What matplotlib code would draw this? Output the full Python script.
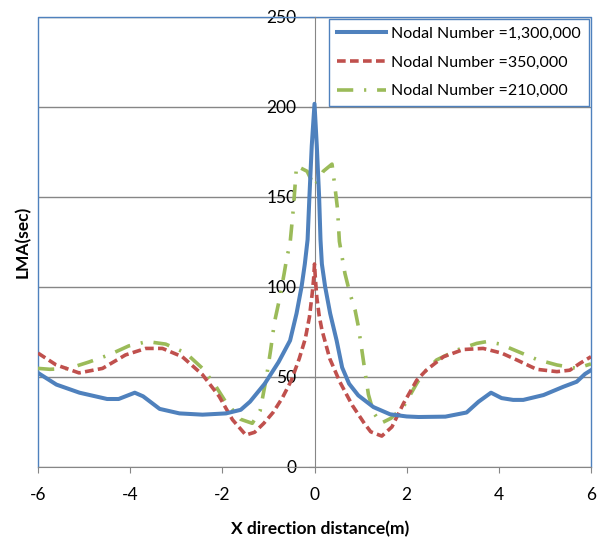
import matplotlib
matplotlib.use("Agg")
from matplotlib import pyplot as plt

plt.rcParams['font.family'] = ['Lato', 'DejaVu Sans']
plt.rcParams['axes.unicode_minus'] = False

# LMA curves (x in m, LMA in sec)
x_1300k = [-6.0, -5.6, -5.1, -4.5, -4.25, -3.9, -3.72, -3.36, -2.93, -2.43, -1.92, -1.6,
           -1.4, -1.08, -0.78, -0.53, -0.39, -0.28, -0.21, -0.15, -0.11, -0.06, 0.0, 0.05,
           0.1, 0.13, 0.16, 0.23, 0.34, 0.48, 0.6, 0.75, 0.95, 1.28, 1.64, 2.0, 2.26,
           2.84, 3.3, 3.56, 3.83, 4.06, 4.31, 4.53, 4.97, 5.4, 5.69, 5.87, 6.0]
lma_1300k = [52, 45.5, 41, 37.5, 37.5, 41, 39, 32, 29.5, 28.8, 29.5, 31.5,
             36, 46, 58, 70, 85, 100, 112.5, 126, 150, 178, 201.5, 178,
             150, 126, 112.5, 100, 85, 70, 55, 46, 39.5, 33, 29, 27.8, 27.5,
             27.7, 30, 36, 41, 38, 37, 37, 39.7, 44.3, 47.1, 51.4, 53.5]

x_350k = [-6.0, -5.61, -5.11, -4.6, -4.1, -3.66, -3.3, -2.87, -2.43, -2.07, -1.78, -1.49,
          -1.3, -1.1, -0.9, -0.7, -0.5, -0.33, -0.2, -0.11, -0.05, -0.02, 0.0, 0.02,
          0.05, 0.1, 0.16, 0.33, 0.55, 0.82, 1.08, 1.22, 1.46, 1.68, 1.93, 2.22, 2.43,
          2.8, 3.23, 3.66, 4.06, 4.39, 4.82, 5.26, 5.54, 5.76, 6.0]
lma_350k = [63, 56.5, 52, 54.5, 62, 65.6, 65.6, 61, 51, 39, 26, 17.5,
            19, 24, 30, 38, 48, 60, 71, 83, 96, 104, 112.5, 104,
            94, 84, 76, 60, 47, 34, 24, 19.3, 16.9, 22, 35, 48, 53.6,
            61, 65, 65.6, 63, 59.2, 54, 52.7, 53.5, 57.3, 61]

x_210k = [-6.0, -5.74, -5.33, -4.9, -4.46, -4.03, -3.63, -3.23, -2.79, -2.43, -2.16, -1.93,
          -1.6, -1.35, -1.18, -1.04, -0.95, -0.87, -0.76, -0.66, -0.6, -0.53, -0.46, -0.39,
          -0.16, 0.0, 0.19, 0.38, 0.45, 0.5, 0.54, 0.66, 0.77, 0.88, 0.95, 1.02, 1.09,
          1.17, 1.28, 1.44, 1.66, 1.93, 2.22, 2.36, 2.65, 3.09, 3.52, 3.74, 4.03, 4.42,
          4.82, 5.26, 5.69, 6.0]
lma_210k = [54.5, 54, 54.5, 58, 62, 67, 69.4, 68, 63, 54.5, 45.3, 36,
            26.2, 24, 31, 50, 65, 80, 93, 107, 116, 124, 143, 167,
            164, 155.5, 164, 168, 154, 143, 125, 107.3, 96, 87, 78, 66, 53.7,
            40, 30, 24, 26.8, 33.2, 46.2, 51.8, 59.2, 64.7, 68.4, 69.4, 68, 63.8,
            59.5, 56.4, 54.5, 57]

labels = ["Nodal Number =1,300,000", "Nodal Number =350,000", "Nodal Number =210,000"]
x_ticks = [-6, -4, -2, 0, 2, 4, 6]
y_ticks = [0, 50, 100, 150, 200, 250]

blue = '#4F81BD'
red = '#C0504D'
green = '#9BBB59'
gray = '#868686'

fig = plt.figure(figsize=(6.07, 5.39), dpi=100)
ax = fig.add_axes([38 / 607, 1 - 466.5 / 539, 553 / 607, 450 / 539])

ax.plot(x_1300k, lma_1300k, color=blue, lw=2.9, label=labels[0], zorder=5)
ax.plot(x_350k, lma_350k, color=red, lw=2.6, ls=(0, (2.4, 1.2)), label=labels[1], zorder=4)
ax.plot(x_210k, lma_210k, color=green, lw=2.6, ls=(0, (4.5, 3, 0.6, 3)), label=labels[2], zorder=3)

ax.set_xlim(-6, 6)
ax.set_ylim(0, 250)
ax.set_xticks(x_ticks)
ax.set_yticks(y_ticks)
ax.yaxis.grid(True, color=gray, lw=1)
ax.set_axisbelow(True)

# y axis crosses at x = 0, blue frame around the plot area
ax.spines['left'].set_position(('data', 0))
ax.spines['left'].set_color(gray)
ax.spines['bottom'].set_color(gray)
for s in ['top', 'right']:
    ax.spines[s].set_visible(False)
ax.plot([0, 0, 1, 1], [0, 1, 1, 0], transform=ax.transAxes, color=blue, lw=1, clip_on=False, zorder=1)

ax.tick_params(axis='x', direction='out', length=4, color=gray, labelsize=12.5, pad=11)
ax.tick_params(axis='y', direction='out', length=4, color=gray, labelsize=12.5, pad=9)

ax.set_xlabel("X direction distance(m)", fontsize=12.5, fontweight='bold')
ax.set_ylabel("LMA(sec)", fontsize=12.5, fontweight='bold')
ax.xaxis.set_label_coords(0.51, -0.12)
ax.yaxis.set_label_coords(-0.012, 0.5)

leg = ax.legend(loc='upper right', bbox_to_anchor=(1, 1), borderaxespad=0.15, fontsize=11.5,
                handlelength=3.1, handletextpad=0.3, labelspacing=0.9, borderpad=0.5,
                fancybox=False, framealpha=1, edgecolor=blue)
leg.get_frame().set_linewidth(1)

fig.savefig("out.png", dpi=100)
